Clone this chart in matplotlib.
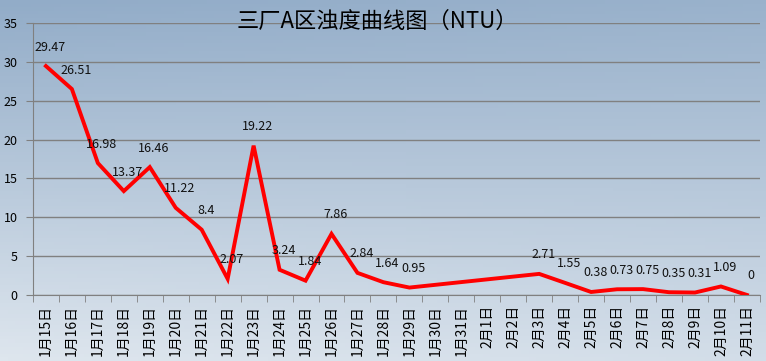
import numpy as np
import matplotlib
matplotlib.use("Agg")
import matplotlib.pyplot as plt

plt.rcParams['font.family'] = ['Noto Sans CJK SC', 'DejaVu Sans']

categories = ["1月15日", "1月16日", "1月17日", "1月18日", "1月19日", "1月20日", "1月21日",
              "1月22日", "1月23日", "1月24日", "1月25日", "1月26日", "1月27日", "1月28日",
              "1月29日", "1月30日", "1月31日", "2月1日", "2月2日", "2月3日", "2月4日",
              "2月5日", "2月6日", "2月7日", "2月8日", "2月9日", "2月10日", "2月11日"]
values = [29.47, 26.51, 16.98, 13.37, 16.46, 11.22, 8.4, 2.07, 19.22, 3.24, 1.84, 7.86,
          2.84, 1.64, 0.95, None, None, None, None, 2.71, 1.55, 0.38, 0.73, 0.75, 0.35,
          0.31, 1.09, 0]
yticks = [0, 5, 10, 15, 20, 25, 30, 35]
title = "三厂A区浊度曲线图（NTU）"

fig = plt.figure(figsize=(7.66, 3.61), dpi=100)
# background gradient
bg = fig.add_axes([0, 0, 1, 1], zorder=-10)
h, w = 100, 100
yy, xx = np.mgrid[0:1:h*1j, 0:1:w*1j]
t = np.clip(0.75 * yy + 0.25 * (1 - xx) * yy + 0.1 * xx, 0, 1)
top = np.array([146, 172, 200]) / 255
bot = np.array([222, 230, 238]) / 255
img = top[None, None, :] * (1 - t[..., None]) + bot[None, None, :] * t[..., None]
bg.imshow(img, aspect='auto', extent=[0, 1, 0, 1], origin='upper')
bg.axis('off')

ax = fig.add_axes([0.043, 0.183, 0.949, 0.753])
ax.patch.set_alpha(0)
x = np.arange(len(categories))
idx = [i for i, v in enumerate(values) if v is not None]
vals = [values[i] for i in idx]
ax.plot(idx, vals, color='#ff0000', lw=2.8, zorder=3, solid_joinstyle='miter')
for i, v in zip(idx, vals):
    ax.annotate(f"{v:g}", (i, v), xytext=(3, 9), textcoords='offset points',
                ha='center', va='bottom', fontsize=9, color='#111111', zorder=4)

ax.set_xlim(-0.5, len(categories) - 0.5)
ax.set_ylim(0, 35)
ax.set_yticks(yticks)
ax.yaxis.grid(True, color='#808080', lw=1)
ax.set_axisbelow(True)
ax.set_xticks(x)
ax.set_xticklabels(categories, rotation=90, fontsize=10)
ax.set_xticks(np.arange(-0.5, len(categories), 1), minor=True)
ax.tick_params(axis='x', which='major', length=0, pad=7)
ax.tick_params(axis='x', which='minor', length=5, color='#808080', direction='out')
ax.tick_params(axis='y', length=5, color='#808080', labelsize=9, pad=6)
for s in ['top', 'right']:
    ax.spines[s].set_visible(False)
ax.spines['left'].set_color('#808080')
ax.spines['bottom'].set_color('#808080')

fig.text(0.492, 0.942, title, ha='center', va='center', fontsize=16, color='#000000')

fig.savefig("out.png", dpi=100)
